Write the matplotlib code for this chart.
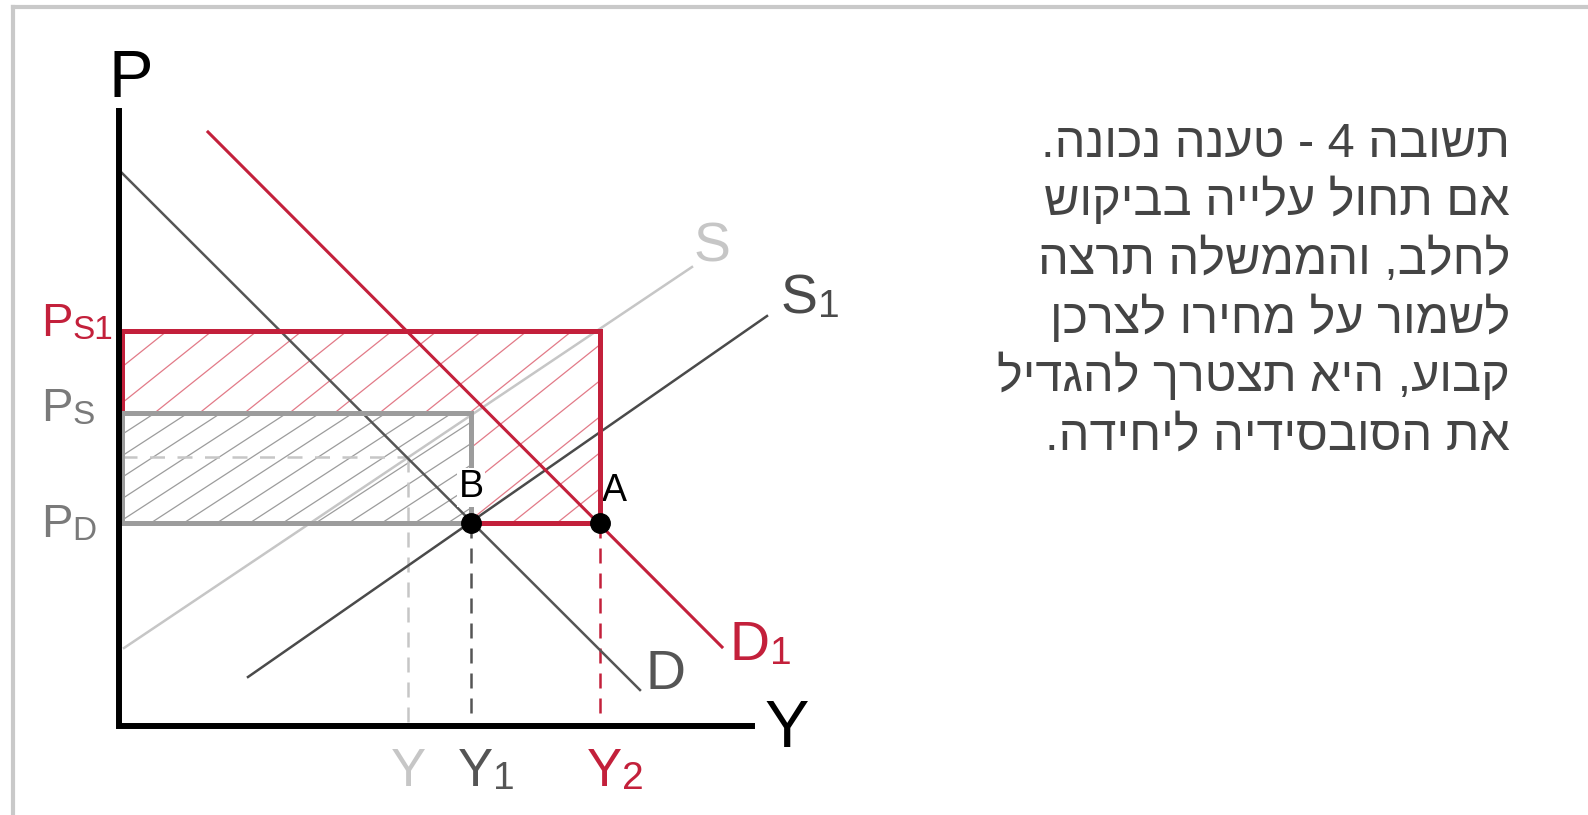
#!/usr/bin/env python3
"""
Milk subsidy diagram: demand shifts from D to D1, the government keeps the
consumer price fixed at PD, so the subsidy per unit must grow (PS -> PS1).

Output:
    out.png
"""
import numpy as np
import matplotlib.pyplot as plt
from matplotlib.lines import Line2D
from matplotlib.patches import Rectangle

# quantities on the Y axis (diagram units)
q_orig = 28.6   # Y
q_b = 34.9      # Y1
q_a = 47.8      # Y2

# prices on the P axis
p_orig = 26.8
p_d = 20.2
p_s = 31.2
p_s1 = 39.4

# curve end points
demand_q = [0.0, 51.8]
demand_p = [55.2, 3.5]
demand1_q = [8.6, 60.0]
demand1_p = [59.3, 7.8]
supply_q = [0.2, 57.0]
supply_p = [7.7, 45.8]
supply1_q = [12.6, 64.5]
supply1_p = [4.8, 40.9]

axis_q_max = 63.0
axis_p_max = 61.4

answer_lines = [
    "תשובה 4 - טענה נכונה.",
    "אם תחול עלייה בביקוש",
    "לחלב, והממשלה תרצה",
    "לשמור על מחירו לצרכן",
    "קבוע, היא תצטרך להגדיל",
    "את הסובסידיה ליחידה.",
]

RED = "#c3203b"
RED_HATCH = "#e27a88"
DARK = "#555555"
SUP1 = "#4a4a4a"
LIGHT = "#c6c6c6"
MID = "#9c9c9c"
LABEL_GRAY = "#7a7a7a"
LABEL_FONT = ["Liberation Sans Narrow", "Liberation Sans", "DejaVu Sans"]


def hatch(ax, x0, x1, y0, y1, spacing, slope, color, lw, z):
    clip = Rectangle((x0, y0), x1 - x0, y1 - y0, facecolor="white",
                     edgecolor="none", zorder=z - 0.1)
    ax.add_patch(clip)
    h = y1 - y0
    for c in np.arange(x0 - h / slope, x1 + spacing, spacing):
        ln, = ax.plot([c, c + h / slope], [y0, y1], color=color, lw=lw,
                      zorder=z, solid_capstyle="butt")
        ln.set_clip_path(clip)


def label(ax, x, y, main, sub, color, size, sub_size, ha="left"):
    """Letter plus a small suffix sitting on the same baseline."""
    t = ax.text(x, y, main, color=color, fontsize=size, family=LABEL_FONT,
                ha=ha, va="baseline")
    if sub:
        ax.annotate(sub, xy=(1, 0), xycoords=t, color=color, fontsize=sub_size,
                    family=LABEL_FONT, ha="left", va="bottom")


def main():
    fig = plt.figure(figsize=(15.88, 8.15), dpi=100)
    ax = fig.add_axes([0, 0, 1, 1])
    ax.set_xlim(-12.2, 146.6)
    ax.set_ylim(-9.0, 72.5)
    ax.axis("off")

    # outer frame (light grey, runs off the right and bottom)
    fig.lines.append(Line2D([13 / 1588, 13 / 1588], [0, 1 - 7 / 815],
                            transform=fig.transFigure, color="#c9c9c9", lw=3))
    fig.lines.append(Line2D([13 / 1588, 1], [1 - 7 / 815, 1 - 7 / 815],
                            transform=fig.transFigure, color="#c9c9c9", lw=3))

    # subsidy areas
    hatch(ax, 0, q_a, p_d, p_s1, 4.5, 0.8, RED_HATCH, 0.9, 2)
    hatch(ax, 0, q_b, p_d, p_s, 3.3, 0.65, MID, 0.9, 3)

    # original equilibrium guides
    ax.plot([0, q_orig], [p_orig, p_orig], color=LIGHT, lw=1.8,
            dashes=(6, 5), zorder=4)
    ax.plot([q_orig, q_orig], [p_orig, 0], color=LIGHT, lw=1.8,
            dashes=(6, 4), zorder=4)
    ax.plot([q_b, q_b], [p_d, 0], color=DARK, lw=1.8, dashes=(6, 4), zorder=4)
    ax.plot([q_a, q_a], [p_d, 0], color=RED, lw=1.8, dashes=(6, 4), zorder=4)

    # curves
    ax.plot(supply_q, supply_p, color=LIGHT, lw=1.8, zorder=5)
    ax.plot(supply1_q, supply1_p, color=SUP1, lw=1.8, zorder=5)
    ax.plot(demand_q, demand_p, color=DARK, lw=1.8, zorder=5)
    ax.plot(demand1_q, demand1_p, color=RED, lw=2.2, zorder=5)

    # rectangle outlines
    ax.plot([0, 0, q_a, q_a, 0], [p_d, p_s1, p_s1, p_d, p_d], color=RED,
            lw=3.6, zorder=6, solid_joinstyle="miter")
    ax.plot([0, 0, q_b, q_b, 0], [p_d, p_s, p_s, p_d, p_d], color=MID,
            lw=3.6, zorder=7, solid_joinstyle="miter")

    # axes
    ax.plot([-0.35, -0.35, axis_q_max], [axis_p_max, -0.05, -0.05],
            color="black", lw=4.3, zorder=8, solid_joinstyle="miter")

    # equilibrium points
    ax.plot([q_b, q_a], [p_d, p_d], "o", color="black", ms=14, zorder=9)
    ax.text(q_b, p_d + 2.6, "B", fontsize=27, family=LABEL_FONT,
            ha="center", va="baseline", color="black", zorder=7.5,
            bbox=dict(boxstyle="square,pad=0.04", fc="white", ec="none"))
    ax.text(q_a + 1.4, p_d + 2.2, "A", fontsize=27, family=LABEL_FONT,
            ha="center", va="baseline", color="black")

    # axis titles
    ax.text(0.9, 62.8, "P", fontsize=48, family=LABEL_FONT, ha="center",
            va="baseline")
    ax.text(64.2, -2.2, "Y", fontsize=48, family=LABEL_FONT, ha="left",
            va="baseline")

    # curve names
    label(ax, 57.2, 46.4, "S", "", LIGHT, 40, 28)
    label(ax, 65.9, 41.2, "S", "1", SUP1, 40, 28)
    label(ax, 52.3, 3.6, "D", "", DARK, 40, 28)
    label(ax, 60.8, 6.5, "D", "1", RED, 40, 28)

    # price labels
    label(ax, -8.1, p_s1 - 0.5, "P", "S1", RED, 34, 24)
    label(ax, -8.1, p_s - 0.8, "P", "S", LABEL_GRAY, 34, 24)
    label(ax, -8.1, p_d - 1.4, "P", "D", LABEL_GRAY, 34, 24)

    # quantity labels
    label(ax, q_orig, -6.1, "Y", "", LIGHT, 38, 28, ha="center")
    label(ax, q_b - 1.3, -6.1, "Y", "1", DARK, 38, 28)
    label(ax, q_a - 1.3, -6.1, "Y", "2", RED, 38, 28)

    # answer text (Hebrew, laid out right-to-left by reversing each line)
    for i, line in enumerate(answer_lines):
        y_px = 157 + 58.5 * i
        fig.text(1510 / 1588, 1 - y_px / 815, line[::-1], ha="right",
                 va="baseline", fontsize=35, color="#444444",
                 family=["Liberation Sans", "DejaVu Sans"])

    fig.savefig("out.png", dpi=100)
    plt.close(fig)


if __name__ == "__main__":
    main()
